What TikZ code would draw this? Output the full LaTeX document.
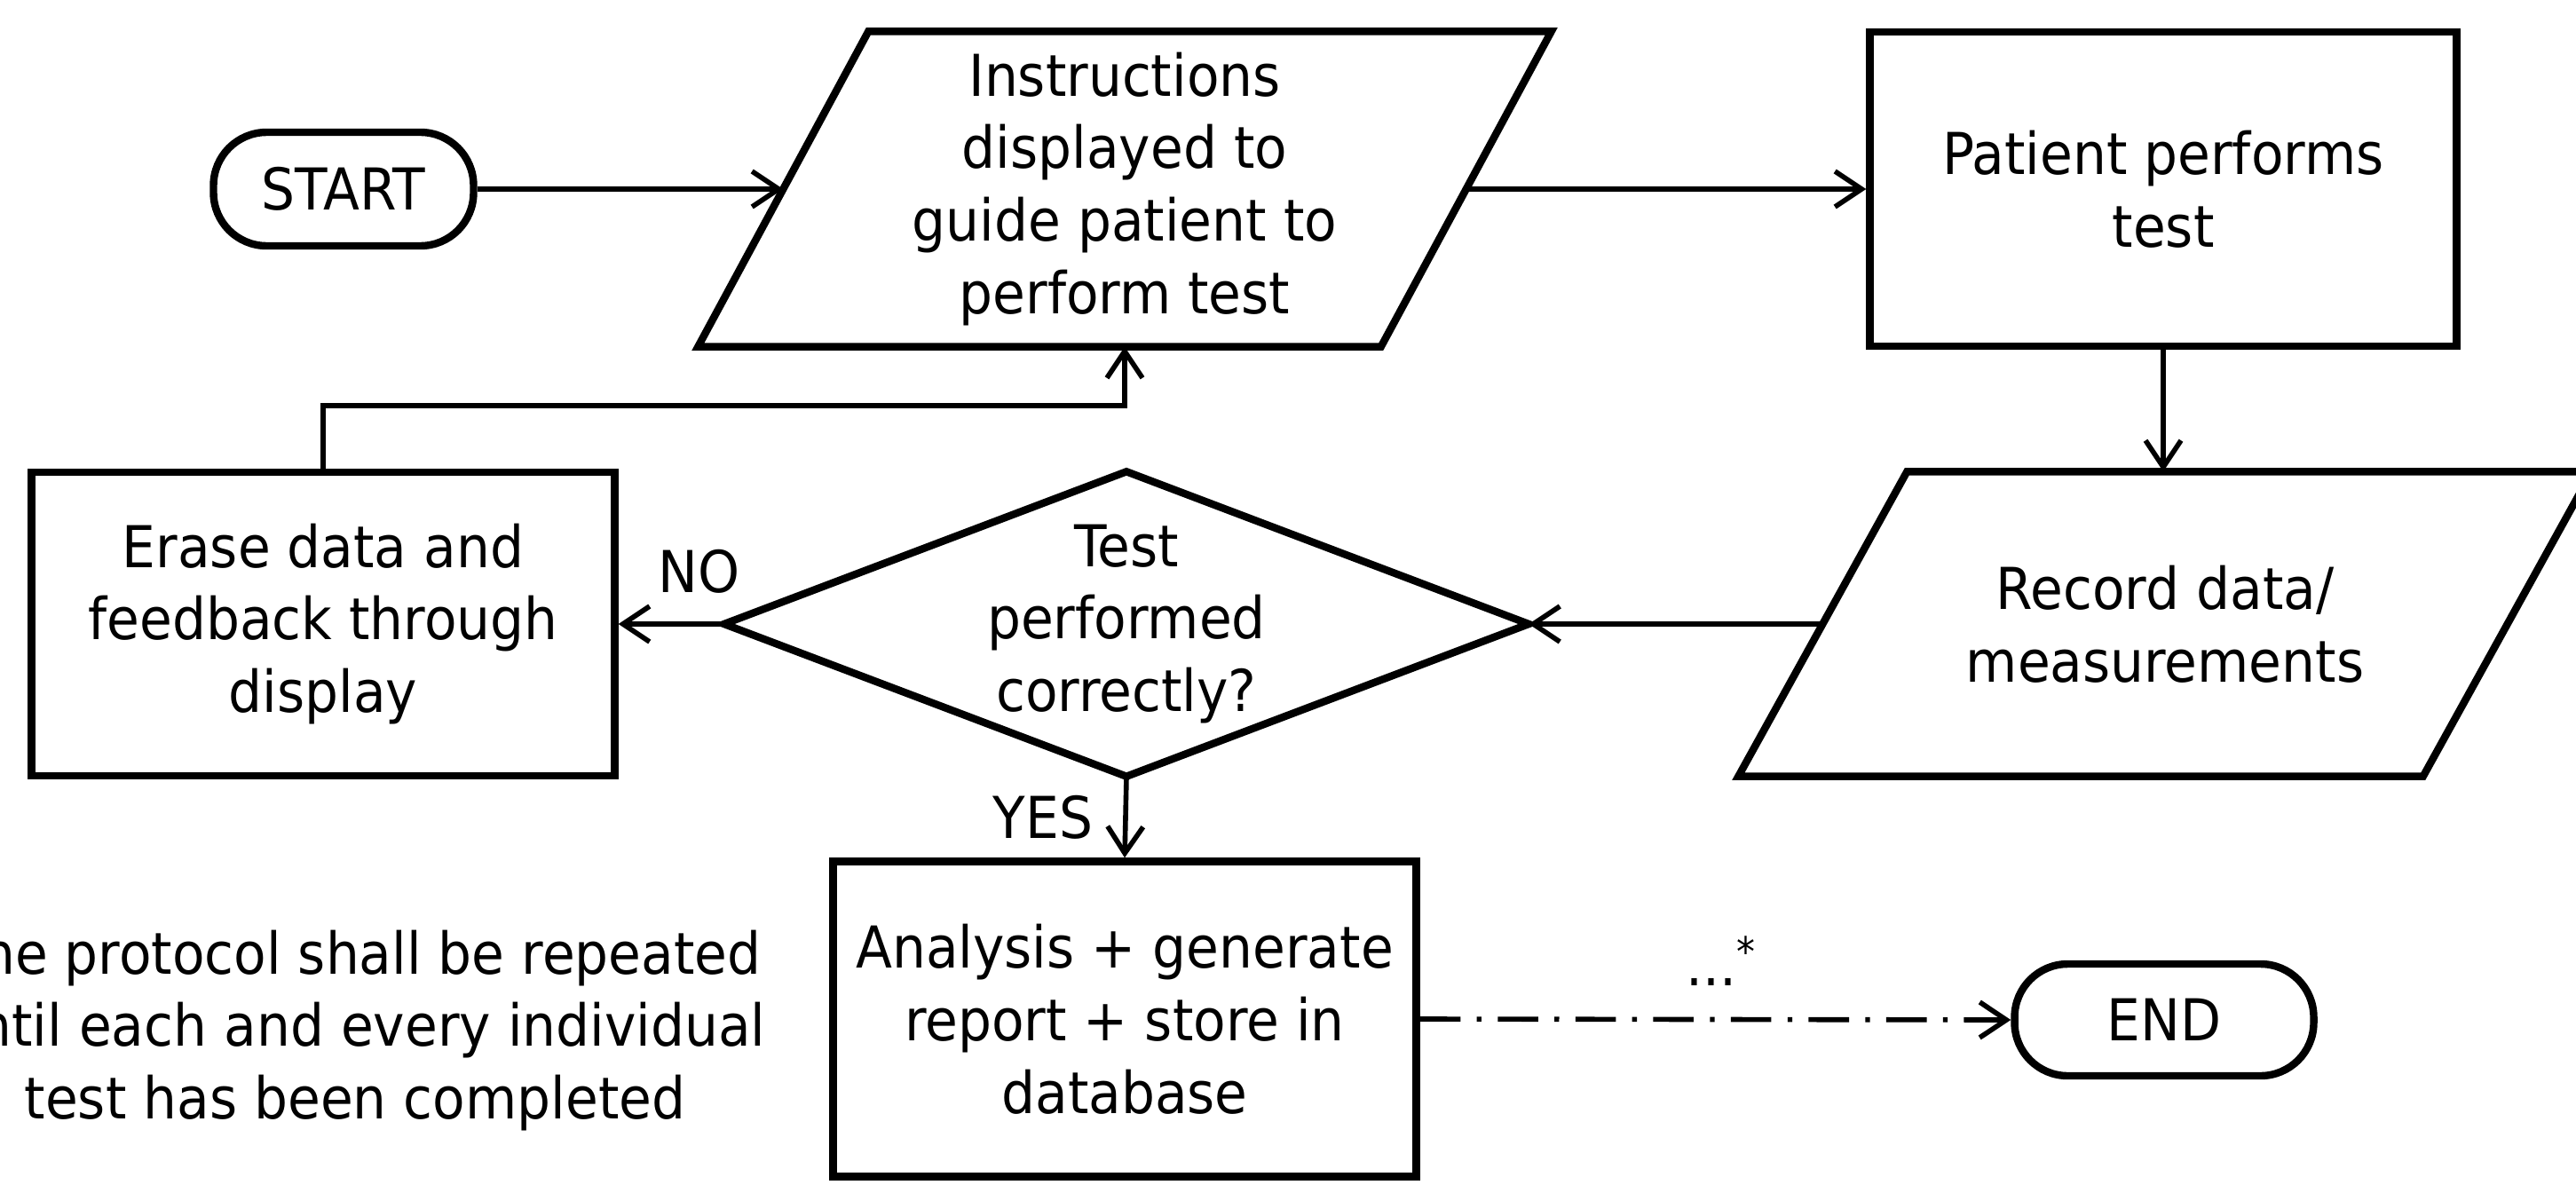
\documentclass[tikz,border=0pt]{standalone}
\usepackage{fontspec}
\setmainfont{DejaVu Sans}[FakeStretch=0.92]
\usetikzlibrary{arrows.meta}

\begin{document}
\begin{tikzpicture}[
    every node/.style={font=\fontsize{18.5}{23.3}\selectfont, align=center},
    box/.style={draw, line width=2.4pt},
    flow/.style={line width=1.6pt, -{Straight Barb[length=3mm,width=4mm]}},
    ]
    \useasboundingbox (0,0) rectangle (29.02,-13.34);

    % the steps (slanted boxes and the diamond get their outlines below)
    \node[box, rounded corners=0.6cm, minimum width=2.93cm, minimum height=1.28cm] (start) at (3.87,-2.13) {START};
    \node[minimum width=7.68cm, minimum height=3.54cm] (instr) at (12.67,-2.13) {Instructions\\displayed to\\guide patient to\\perform test};
    \node[box, minimum width=6.61cm, minimum height=3.54cm] (patient) at (24.37,-2.13) {Patient performs\\test};
    \node[minimum width=7.70cm, minimum height=3.42cm] (record) at (24.39,-7.03) {Record data/\\measurements};
    \node[minimum width=9.05cm, minimum height=3.42cm] (check) at (12.69,-7.03) {Test\\performed\\correctly?};
    \node[box, minimum width=6.57cm, minimum height=3.42cm] (erase) at (3.64,-7.03) {Erase data and\\feedback through\\display};
    \node[box, minimum width=6.57cm, minimum height=3.55cm] (analysis) at (12.67,-11.48) {Analysis + generate\\report + store in\\database};
    \node[box, rounded corners=0.6cm, minimum width=3.37cm, minimum height=1.26cm] (stop) at (24.38,-11.49) {END};
    \node (note) at (4.00,-11.61) {The protocol shall be repeated\\until each and every individual\\test has been completed};

    \draw[box] ([xshift=0.96cm]instr.north west) -- ([xshift=0.96cm]instr.north east)
        -- ([xshift=-0.96cm]instr.south east) -- ([xshift=-0.96cm]instr.south west) -- cycle;
    \draw[box] ([xshift=0.95cm]record.north west) -- ([xshift=0.95cm]record.north east)
        -- ([xshift=-0.95cm]record.south east) -- ([xshift=-0.95cm]record.south west) -- cycle;
    \draw[box] (check.north) -- (check.east) -- (check.south) -- (check.west) -- cycle;

    % connectors
    \coordinate (back) at (3.64,-4.57);
    \draw[flow] (start.east) -- (instr.west);
    \draw[flow] (instr.east) -- (patient.west);
    \draw[flow] (patient.south) -- (patient.south |- record.north);
    \draw[flow] (record.west) -- (check.east);
    \draw[flow] (check.west) -- node[pos=0.24, yshift=0.59cm] {NO} (erase.east);
    \draw[flow] (erase.north) -- (back) -| (instr.south);
    \draw[flow] (check.south) -- node[xshift=-0.93cm] {YES} (analysis.north);
    \draw[flow, dash pattern=on 13pt off 5.2pt on 1.5pt off 5.2pt]
        (analysis.east) -- node[pos=0.51, yshift=0.66cm] {...\textsuperscript{*}} (stop.west);
\end{tikzpicture}
\end{document}
